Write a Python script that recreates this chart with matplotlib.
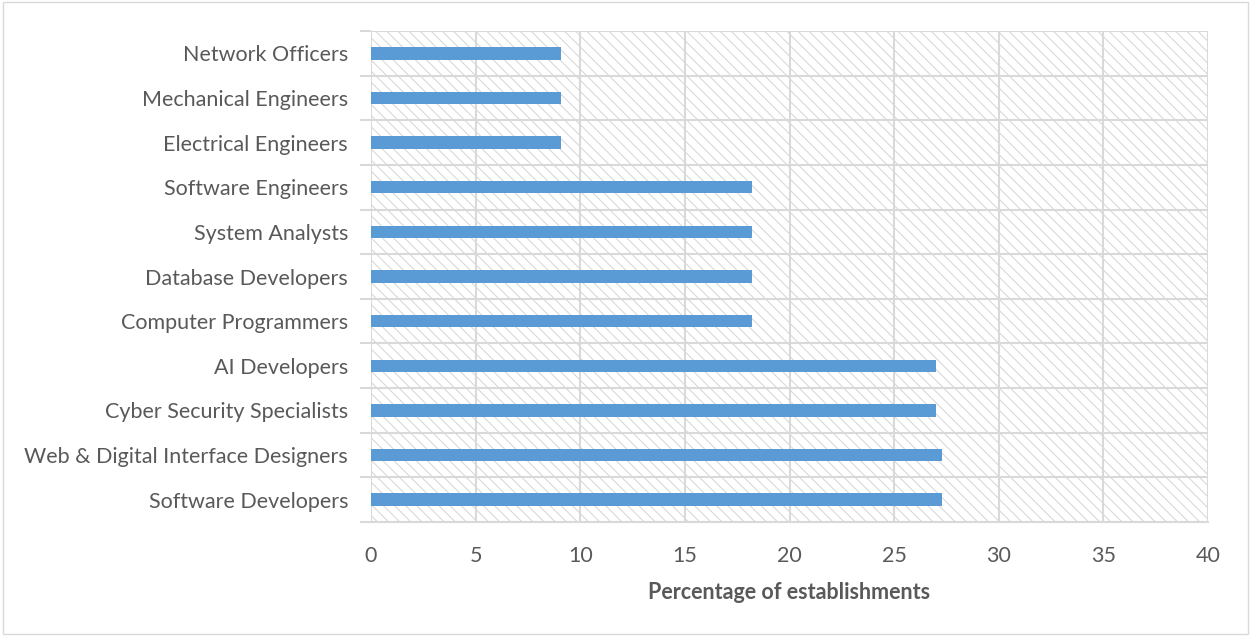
import numpy as np
import matplotlib.pyplot as plt
from matplotlib.patches import Rectangle

plt.rcParams['font.family'] = ['Lato', 'DejaVu Sans']
plt.rcParams['hatch.linewidth'] = 0.7
plt.rcParams['hatch.color'] = '#d4d4d4'

# bottom to top, as drawn
occupations = ['Software Developers', 'Web & Digital Interface Designers',
               'Cyber Security Specialists', 'AI Developers', 'Computer Programmers',
               'Database Developers', 'System Analysts', 'Software Engineers',
               'Electrical Engineers', 'Mechanical Engineers', 'Network Officers']
percentages = [27.3, 27.3, 27.0, 27.0, 18.2, 18.2, 18.2, 18.2, 9.1, 9.1, 9.1]
xticks = [0, 5, 10, 15, 20, 25, 30, 35, 40]

grid_col = '#d9d9d9'
text_col = '#595959'

fig = plt.figure(figsize=(12.5, 6.36), dpi=100)
ax = fig.add_axes([0.2968, 0.1792, 0.6696, 0.7721])

# hatched plot background
ax.add_patch(Rectangle((0, 0), 1, 1, transform=ax.transAxes, facecolor='white',
                       edgecolor='#d4d4d4', hatch='\\\\\\', linewidth=0, zorder=0))

y = np.arange(len(occupations))
ax.barh(y, percentages, height=0.28, color='#5b9bd5', zorder=3)

ax.set_xlim(0, 40)
ax.set_ylim(-0.5, len(occupations) - 0.5)
ax.set_xticks(xticks)
ax.set_yticks(y)
ax.set_yticklabels(occupations)
ax.set_yticks(np.arange(-0.5, len(occupations), 1), minor=True)

ax.grid(axis='x', color=grid_col, linewidth=1.5, zorder=1)
ax.grid(axis='y', which='minor', color=grid_col, linewidth=1.5, zorder=1)
ax.tick_params(axis='y', which='major', length=0, pad=16.5, labelsize=15.5, labelcolor=text_col)
ax.tick_params(axis='y', which='minor', length=8, color=grid_col, width=1.5)
ax.tick_params(axis='x', length=0, pad=17, labelsize=15.5, labelcolor=text_col)

for s in ['top', 'right', 'left']:
    ax.spines[s].set_visible(False)
ax.spines['bottom'].set_color(grid_col)
ax.spines['bottom'].set_linewidth(1.5)

ax.set_xlabel('Percentage of establishments', fontsize=15.5, fontweight='bold',
              color=text_col, labelpad=12)

fig.add_artist(Rectangle((0.002, 0.003), 0.996, 0.994, transform=fig.transFigure,
                         fill=False, edgecolor=grid_col, linewidth=1))

fig.savefig('out.png', dpi=100)
